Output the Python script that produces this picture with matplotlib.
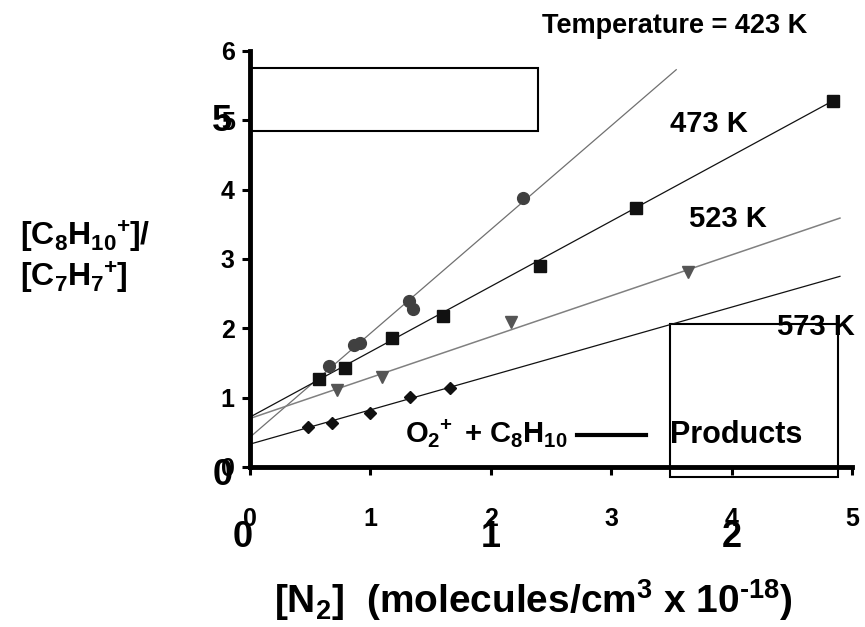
import matplotlib
matplotlib.use("Agg")
import matplotlib.pyplot as plt
from matplotlib.patches import Rectangle

plt.rcParams["font.family"] = ["Liberation Sans", "DejaVu Sans"]
plt.rcParams["font.weight"] = "bold"
plt.rcParams["mathtext.fontset"] = "custom"
plt.rcParams["mathtext.rm"] = "Liberation Sans:bold"
plt.rcParams["mathtext.bf"] = "Liberation Sans:bold"
plt.rcParams["mathtext.it"] = "Liberation Sans:bold"
plt.rcParams["mathtext.default"] = "bf"

# data ([N2] in 1e18 molecules/cm3)
x_423 = [0.66, 0.86, 0.91, 1.32, 1.35, 2.27]
y_423 = [1.46, 1.76, 1.79, 2.39, 2.28, 3.88]
x_473 = [0.57, 0.79, 1.18, 1.60, 2.41, 3.21, 4.84]
y_473 = [1.27, 1.43, 1.86, 2.18, 2.90, 3.73, 5.28]
x_523 = [0.72, 1.10, 2.17, 3.64]
y_523 = [1.11, 1.30, 2.09, 2.81]
x_573 = [0.48, 0.68, 1.00, 1.33, 1.66]
y_573 = [0.58, 0.63, 0.78, 1.01, 1.14]

# fitted lines (end points)
fit_423 = ([0, 3.54], [0.43, 5.73])
fit_473 = ([0, 4.84], [0.72, 5.28])
fit_523 = ([0, 4.90], [0.70, 3.59])
fit_573 = ([0, 4.90], [0.33, 2.75])

xticks = [0, 1, 2, 3, 4, 5]
yticks = [0, 1, 2, 3, 4, 5, 6]
extra_xticks = [0, 2, 4]
extra_xlabels = ["0", "1", "2"]

fig = plt.figure(figsize=(8.65, 6.27), dpi=100)
ax = fig.add_axes([250 / 865, 1 - 467 / 627, 602 / 865, 416 / 627])

ax.plot(*fit_423, color="#707070", lw=0.9)
ax.plot(*fit_473, color="#111111", lw=0.9)
ax.plot(*fit_523, color="#808080", lw=1.1)
ax.plot(*fit_573, color="#111111", lw=0.9)

ax.plot(x_423, y_423, "o", color="#404040", ms=8.5, ls="none")
ax.plot(x_473, y_473, "s", color="#111111", ms=8, ls="none")
ax.plot(x_523, y_523, "v", color="#555555", ms=8.5, ls="none")
ax.plot(x_573, y_573, "D", color="#111111", ms=6, ls="none")

ax.set_xlim(0, 5)
ax.set_ylim(0, 6)
ax.set_xticks(xticks)
ax.set_yticks(yticks)
ax.tick_params(axis="x", direction="out", length=6, width=2.2, labelsize=18, pad=23)
ax.tick_params(axis="y", direction="out", length=6, width=2.2, labelsize=18, pad=5)
for s in ["top", "right"]:
    ax.spines[s].set_visible(False)
for s in ["left", "bottom"]:
    ax.spines[s].set_linewidth(3.5)

# empty boxes
ax.add_patch(Rectangle((0, 4.85), 2.39, 0.90, fill=False, lw=1.5, ec="black", clip_on=False))
ax.add_patch(Rectangle((3.49, -0.14), 1.39, 2.20, fill=False, lw=1.5, ec="black", clip_on=False))

# temperature labels
ax.text(3.53, 6.26, "Temperature = 423 K", fontsize=19.5, ha="center", va="baseline")
ax.text(3.49, 4.83, "473 K", fontsize=21, va="baseline")
ax.text(3.65, 3.46, "523 K", fontsize=21, va="baseline")
ax.text(4.38, 1.90, "573 K", fontsize=21, va="baseline", clip_on=False)

# reaction
ax.text(1.29, 0.35, r"O$_2\!{}^+$ + C$_8$H$_{10}$", fontsize=21, va="baseline")
ax.plot([2.72, 3.29], [0.46, 0.46], color="black", lw=3)
ax.text(3.49, 0.35, "Products", fontsize=22, va="baseline")

# leftover labels of a second axis
for xt, lab in zip(extra_xticks, extra_xlabels):
    ax.text(xt - (0.06 if xt == 0 else 0), -1.02, lab, fontsize=26, ha="center", va="center", clip_on=False)
ax.text(-0.23, -0.12, "0", fontsize=26, ha="center", va="center", clip_on=False)
ax.text(-0.23, 4.98, "5", fontsize=26, ha="center", va="center", clip_on=False)

# axis labels
fig.text(20 / 865, 1 - 237 / 627, r"$[C_8H_{10}\!{}^+\!]/$", fontsize=23, ha="left", va="center")
fig.text(20 / 865, 1 - 278 / 627, r"$[C_7H_7\!{}^+\!]$", fontsize=23, ha="left", va="center")
fig.text(533 / 865, 1 - 600 / 627, r"$[N_2]$  (molecules/cm$^3$ x 10$^{\text{-}18}$)", fontsize=28,
         ha="center", va="center")

fig.savefig("out.png", dpi=100)
